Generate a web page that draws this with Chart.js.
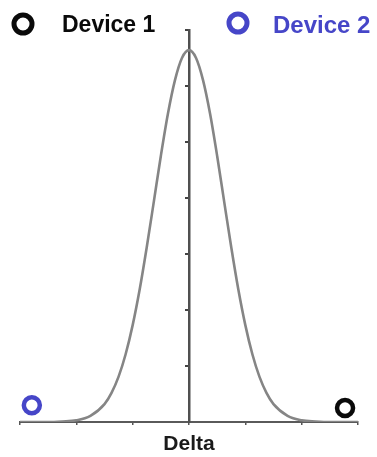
<!DOCTYPE html>
<html>
<head>
<meta charset="utf-8">
<script src="https://cdn.jsdelivr.net/npm/chart.js@4/dist/chart.umd.min.js"></script>
<style>
  html, body { margin: 0; padding: 0; background: #ffffff; }
  #wrap { position: relative; width: 377px; height: 457px; }
</style>
</head>
<body>
<div id="wrap"><canvas id="c"></canvas></div>
<script>
// ---- data ----
const deltaX  = [-3, -2.75, -2.5, -2.25, -2, -1.75, -1.5, -1.375, -1.25, -1.125, -1, -0.875, -0.75, -0.625, -0.5, -0.375, -0.25, -0.125, 0,
                 0.125, 0.25, 0.375, 0.5, 0.625, 0.75, 0.875, 1, 1.125, 1.25, 1.375, 1.5, 1.75, 2, 2.25, 2.5, 2.75, 3];
const density = [0, 0, 0, 0.01, 0.03, 0.11, 0.32, 0.52, 0.81, 1.21, 1.73, 2.37, 3.12, 3.93, 4.75, 5.50, 6.10, 6.50, 6.64,
                 6.50, 6.10, 5.50, 4.75, 3.93, 3.12, 2.37, 1.73, 1.21, 0.81, 0.52, 0.32, 0.11, 0.03, 0.01, 0, 0, 0];
const deviceNames  = ['Device 1', 'Device 2'];
const deviceDelta  = [2.77, -2.79];
const deviceLevel  = [0.25, 0.30];
const xTickValues  = [-3, -2, -1, 0, 1, 2, 3];
const yTickValues  = [0, 1, 2, 3, 4, 5, 6, 7];
const xAxisTitle   = 'Delta';

// ---- styles ----
const deviceColors = ['#0a0a0a', '#4646c8'];
const legendSlots = [
  { cx: 23,  cy: 24, tx: 62,  ty: 32, size: 23 },
  { cx: 238, cy: 23, tx: 273, ty: 33, size: 24 }
];

const curvePoints = deltaX.map((x, i) => ({ x: x, y: density[i] }));

const datasets = [{
  label: 'curve',
  data: curvePoints,
  showLine: true,
  borderColor: '#858585',
  borderWidth: 2.6,
  pointRadius: 0,
  cubicInterpolationMode: 'monotone',
  fill: false,
  order: 2
}];
deviceNames.forEach((name, i) => {
  datasets.push({
    label: name,
    data: [{ x: deviceDelta[i], y: deviceLevel[i] }],
    pointRadius: 8,
    pointBorderWidth: 4.5,
    pointBorderColor: deviceColors[i],
    pointBackgroundColor: 'rgba(255,255,255,0)',
    borderColor: deviceColors[i],
    showLine: false,
    clip: false,
    isDevice: true,
    order: 1
  });
});

const topLegend = {
  id: 'topLegend',
  afterDraw(chart) {
    const ctx = chart.ctx;
    let k = 0;
    chart.data.datasets.forEach((ds) => {
      if (!ds.isDevice) return;
      const s = legendSlots[k++];
      ctx.save();
      ctx.beginPath();
      ctx.arc(s.cx, s.cy, 9, 0, Math.PI * 2);
      ctx.lineWidth = 5;
      ctx.strokeStyle = ds.borderColor;
      ctx.stroke();
      ctx.font = 'bold ' + s.size + 'px "Liberation Sans", Arial, sans-serif';
      ctx.fillStyle = ds.borderColor;
      ctx.textBaseline = 'alphabetic';
      ctx.textAlign = 'left';
      ctx.fillText(ds.label, s.tx, s.ty);
      ctx.restore();
    });
  }
};

new Chart(document.getElementById('c'), {
  type: 'scatter',
  data: { datasets: datasets },
  plugins: [topLegend],
  options: {
    responsive: true,
    maintainAspectRatio: false,
    animation: false,
    layout: { padding: { top: 30, left: 20, right: 19, bottom: 0 } },
    plugins: {
      legend: { display: false },
      tooltip: { enabled: false },
      title: { display: false }
    },
    scales: {
      x: {
        type: 'linear',
        position: 'bottom',
        min: xTickValues[0],
        max: xTickValues[xTickValues.length - 1],
        afterBuildTicks: (s) => { s.ticks = xTickValues.map(v => ({ value: v })); },
        afterFit: (s) => { s.height = 35; },
        ticks: { display: false },
        grid: { display: true, drawOnChartArea: false, drawTicks: true, tickLength: 3, color: '#555555', lineWidth: 1.5 },
        border: { display: true, color: '#5a5a5a', width: 2 },
        title: {
          display: true,
          text: xAxisTitle,
          color: '#1a1a1a',
          font: { family: '"Liberation Sans", Arial, sans-serif', size: 21, weight: 'bold' },
          padding: { top: 6, bottom: 0 }
        }
      },
      y: {
        type: 'linear',
        position: { x: 0 },
        min: yTickValues[0],
        max: yTickValues[yTickValues.length - 1],
        afterBuildTicks: (s) => { s.ticks = yTickValues.map(v => ({ value: v })); },
        afterFit: (s) => { s.width = 0; },
        ticks: { display: false },
        grid: { display: true, drawOnChartArea: false, drawTicks: true, tickLength: 3, color: '#444444', lineWidth: 2 },
        border: { display: true, color: '#505050', width: 2.5 }
      }
    }
  }
});
</script>
</body>
</html>
